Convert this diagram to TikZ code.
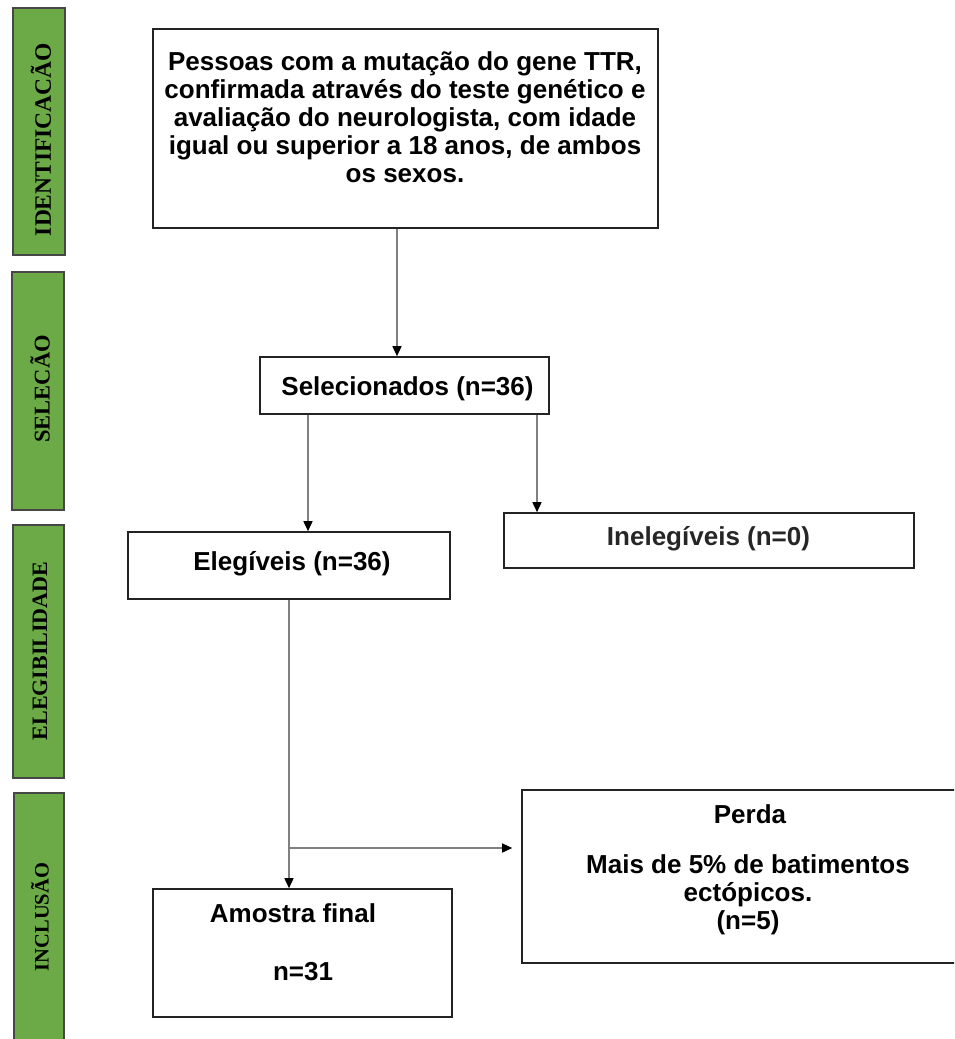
\documentclass[tikz,border=0pt]{standalone}
\usepackage{fontspec}
\setmainfont{Liberation Sans}
\newfontfamily\timesf{Liberation Serif}
\usetikzlibrary{arrows.meta}
\definecolor{barGreen}{RGB}{108,170,72}
\definecolor{barEdge}{RGB}{70,70,70}
\definecolor{lineGray}{RGB}{128,128,128}
\definecolor{boxEdge}{RGB}{35,35,35}
\definecolor{softText}{RGB}{38,38,38}
\begin{document}
\begin{tikzpicture}[x=1pt,y=-1pt,
  stagebar/.style={draw=barEdge, line width=1.3pt, fill=barGreen, inner sep=0pt},
  flowbox/.style={draw=boxEdge, line width=1.6pt, fill=white, inner sep=0pt},
  stagelabel/.style={rotate=90, font=\timesf\bfseries\fontsize{#1}{#1}\selectfont, text=black, inner sep=0pt},
  boxtext/.style={font=\bfseries\fontsize{26}{28}\selectfont, align=center, inner sep=0pt},
  flowarrow/.style={draw=lineGray, line width=1.5pt, -{Triangle[length=10pt,width=9pt,color=black,fill=black]}}
]
\useasboundingbox (0,0) rectangle (954,1039);
\clip (0,0) rectangle (954,1039);
\fill[white] (0,0) rectangle (954,1039);

% stage bars
\node[stagebar, minimum width=52pt, minimum height=247pt] (bar1) at (39,131.5) {};
\node[stagebar, minimum width=52pt, minimum height=238pt] (bar2) at (38,391) {};
\node[stagebar, minimum width=51pt, minimum height=253pt] (bar3) at (38.5,651.5) {};
\node[stagebar, minimum width=50pt, minimum height=257pt] (bar4) at (39,921.5) {};
\node[stagelabel=23.5] (lab1) at (41,139.5) {IDENTIFICACÃO};
\node[stagelabel=22.5] (lab2) at (40,389) {SELECÃO};
\node[stagelabel=22] (lab3) at (40,651) {ELEGIBILIDADE};
\node[stagelabel=20.5] (lab4) at (40,917) {INCLUSÃO};

% boxes
\node[flowbox, minimum width=505pt, minimum height=199pt] (box1) at (405.5,128.5) {};
\node[flowbox, minimum width=289pt, minimum height=57pt] (box2) at (404.5,385.5) {};
\node[flowbox, minimum width=322pt, minimum height=67pt] (box3) at (289,565.5) {};
\node[flowbox, minimum width=410pt, minimum height=55pt] (box4) at (709,540.5) {};
\node[flowbox, minimum width=453pt, minimum height=173pt] (box5) at (748.5,876.5) {};
\node[flowbox, minimum width=299pt, minimum height=128pt] (box6) at (302.5,953) {};

% texts (base anchor of a multi-line node = its last line's baseline)
\node[boxtext, anchor=base] (t1) at (405,182) {Pessoas com a mutação do gene TTR,\\confirmada através do teste genético e\\avaliação do neurologista, com idade\\igual ou superior a 18 anos, de ambos\\os sexos.};
\node[boxtext, anchor=base] (t2) at (407.5,395) {Selecionados (n=36)};
\node[boxtext, anchor=base] (t3) at (292,570) {Elegíveis (n=36)};
\node[boxtext, anchor=base, text=softText] (t4) at (708.5,545) {Inelegíveis (n=0)};
\node[boxtext, anchor=base] (t5a) at (750,823) {Perda};
\node[boxtext, anchor=base] (t5b) at (748,929) {Mais de 5\% de batimentos\\ectópicos.\\(n=5)};
\node[boxtext, anchor=base] (t6a) at (293,922) {Amostra final};
\node[boxtext, anchor=base] (t6b) at (303,980) {n=31};

% connectors
\draw[flowarrow] ([xshift=-8.5pt]box1.south) -- ([xshift=-7.5pt]box2.north);
\draw[flowarrow] ([xshift=-96.5pt]box2.south) -- ([xshift=19pt]box3.north);
\draw[flowarrow] ([xshift=132.5pt]box2.south) -- ([xshift=-172pt]box4.north);
\draw[flowarrow] (box3.south) -- ([xshift=-13.5pt]box6.north);
\coordinate (split) at (290,848);
\draw[flowarrow, shorten >=9pt] (split) -- (split -| box5.west);
\end{tikzpicture}
\end{document}
